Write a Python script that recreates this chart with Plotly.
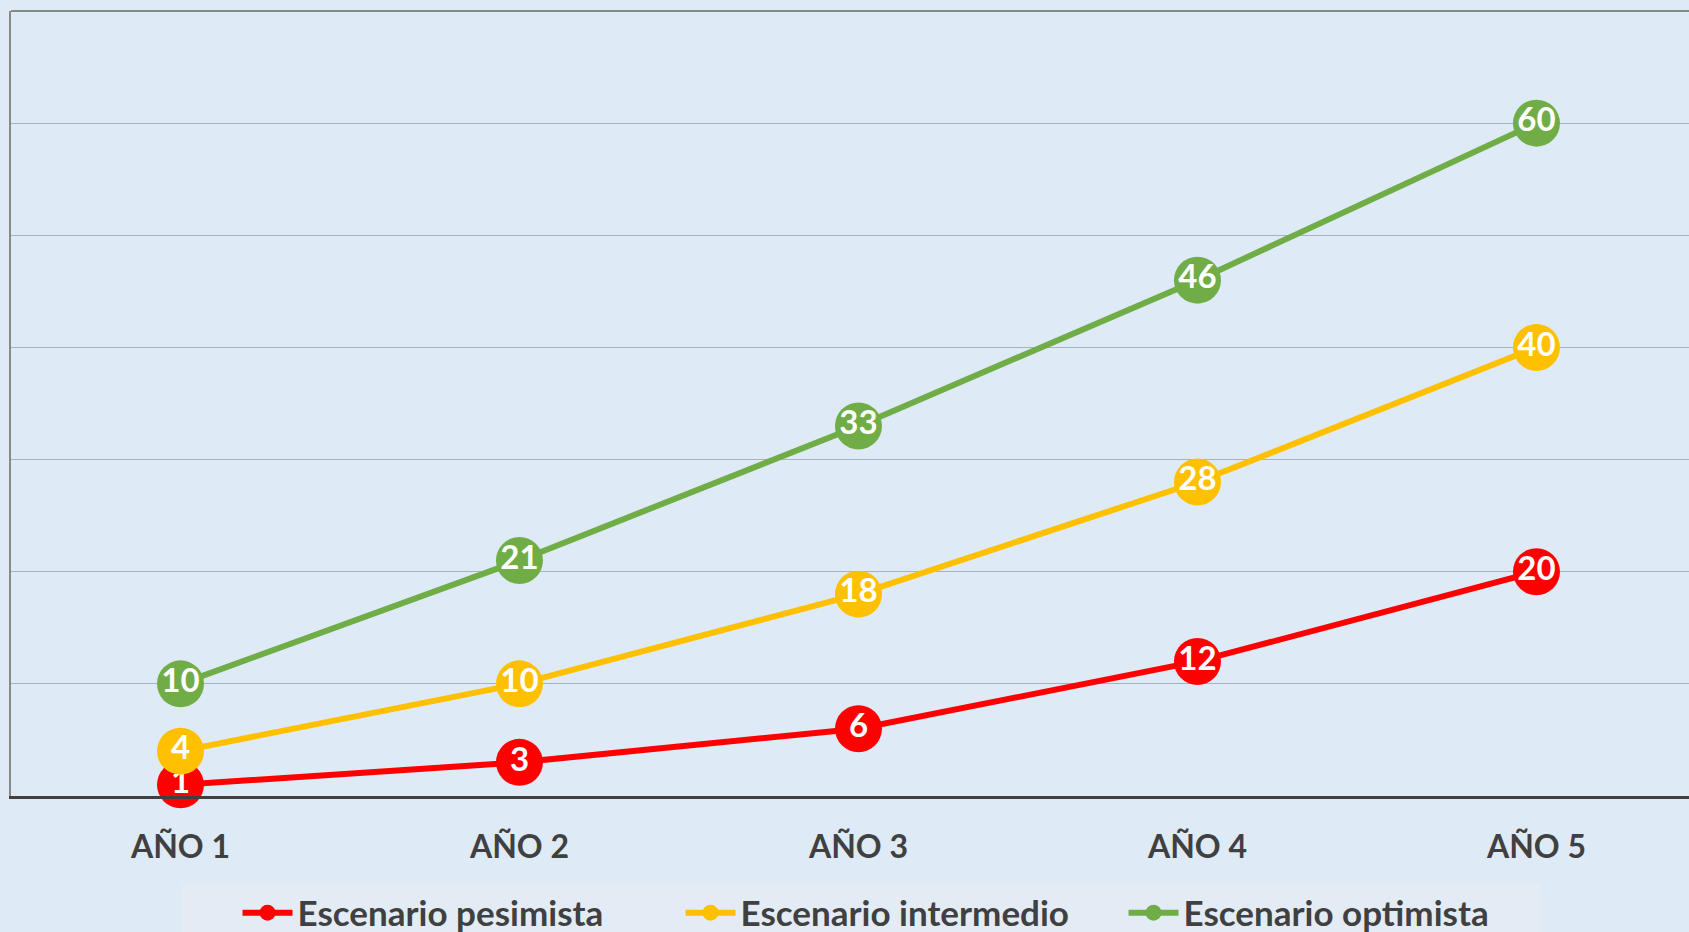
import plotly.graph_objects as go

categories = ["AÑO 1", "AÑO 2", "AÑO 3", "AÑO 4", "AÑO 5"]
pesimista = [1, 3, 6, 12, 20]
intermedio = [4, 10, 18, 28, 40]
optimista = [10, 21, 33, 46, 60]

series = [
    ("Escenario pesimista", pesimista, "#FF0000"),
    ("Escenario intermedio", intermedio, "#FFC000"),
    ("Escenario optimista", optimista, "#70AD47"),
]

FONT = "Lato"
BG = "#DEEAF6"

fig = go.Figure()
for name, vals, col in series:
    fig.add_trace(go.Scatter(
        x=categories, y=vals, mode="lines+markers+text", name=name,
        line=dict(color=col, width=6),
        marker=dict(color=col, size=47, line=dict(width=0)),
        text=[str(v) for v in vals], textposition="middle center",
        textfont=dict(family=FONT, size=33, color="white", weight="bold"),
        showlegend=False, cliponaxis=False,
    ))
for name, vals, col in series:
    fig.add_trace(go.Scatter(
        x=[None], y=[None], mode="lines+markers", name=name,
        line=dict(color=col, width=6),
        marker=dict(color=col, size=20),
        showlegend=True,
    ))

fig.update_layout(
    width=1689, height=932,
    margin=dict(l=11, r=0, t=11, b=136, autoexpand=False),
    paper_bgcolor=BG, plot_bgcolor=BG,
    showlegend=True,
    legend=dict(
        orientation="h", x=0.135, xanchor="left", y=-0.149, yanchor="middle",
        font=dict(family=FONT, size=35, color="#404040", weight="bold"),
        bgcolor="rgba(0,0,0,0)", itemwidth=50, tracegroupgap=0,
        entrywidth=378,
    ),
    xaxis=dict(
        type="category", range=[-0.5, 4.45], showgrid=False,
        showline=True, linecolor="#404040", linewidth=3,
        ticks="", ticklabelstandoff=21,
        tickfont=dict(family=FONT, size=32, color="#404040", weight="bold"),
        fixedrange=True,
    ),
    yaxis=dict(
        range=[0, 70], dtick=10, showgrid=True, gridcolor="#A9B2BA", gridwidth=1,
        showticklabels=False, zeroline=False,
        showline=True, linecolor="#888888", linewidth=2,
    ),
    shapes=[
        dict(type="line", xref="paper", yref="paper", x0=0, x1=1, y0=1, y1=1,
             line=dict(color="#888888", width=2)),
        dict(type="rect", xref="paper", yref="paper",
             x0=(181 - 11) / 1678, x1=(1540 - 11) / 1678,
             y0=(796 - 940) / 785, y1=(796 - 883) / 785,
             fillcolor="#E3ECF5", line=dict(width=0), layer="below"),
    ],
)

fig.write_html("out.html")
